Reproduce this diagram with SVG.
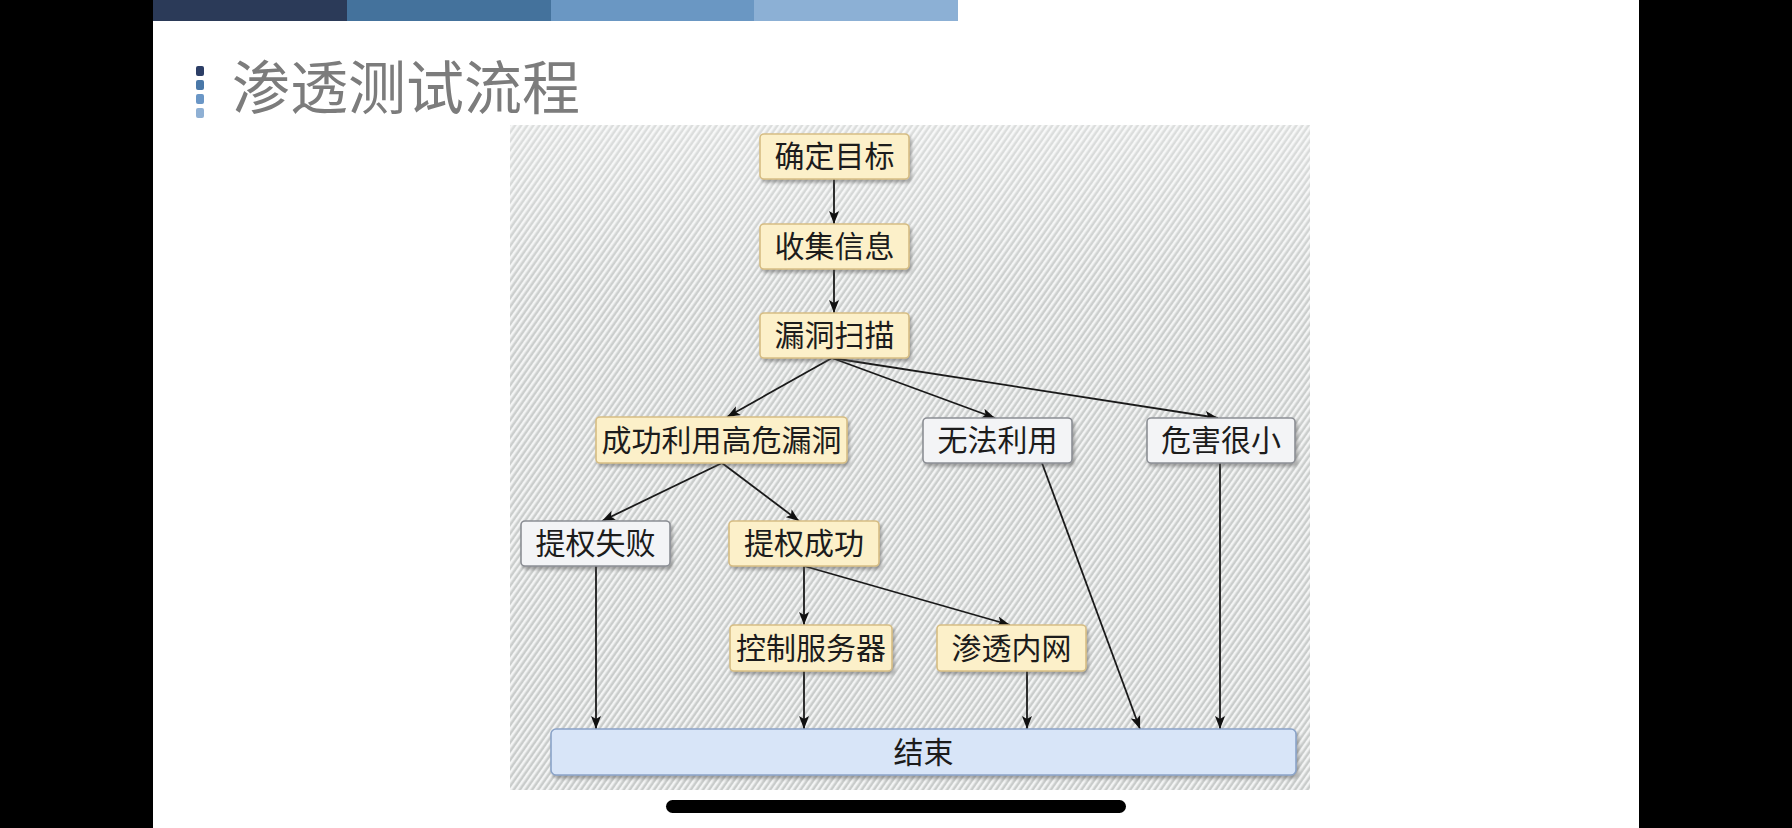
<svg xmlns="http://www.w3.org/2000/svg" width="1792" height="828" viewBox="0 0 1792 828">
<style>
.node rect{stroke-width:1.6}
.yel rect{fill:#fcf0c9;stroke:#d6bd84}
.gry rect{fill:#f3f4f6;stroke:#8c8f95}
.blu rect{fill:#d8e5f8;stroke:#8aa3c8}
.node text{font-family:"Noto Sans CJK SC","Noto Sans",sans-serif;font-size:30px;fill:#1c1c1c;text-anchor:middle}
.conn line{stroke:#1a1a1a;stroke-width:1.8;fill:none}
</style>
<defs>
<pattern id="hatch" width="5" height="5" patternUnits="userSpaceOnUse" patternTransform="rotate(35)">
<rect width="5" height="5" fill="#c9cccb"/>
<rect width="2.5" height="5" fill="#f3f4f4"/>
</pattern>
<linearGradient id="fade" x1="0" y1="0" x2="0" y2="1">
<stop offset="0" stop-color="#ffffff" stop-opacity="0.35"/>
<stop offset="0.25" stop-color="#ffffff" stop-opacity="0.05"/>
<stop offset="1" stop-color="#ffffff" stop-opacity="0"/>
</linearGradient>
<filter id="sh" x="-10%" y="-20%" width="125%" height="150%">
<feDropShadow dx="2" dy="3" stdDeviation="1.5" flood-color="#555" flood-opacity="0.45"/>
</filter>
<marker id="arr" viewBox="0 0 13 10" refX="13" refY="5" markerWidth="13" markerHeight="10" markerUnits="userSpaceOnUse" orient="auto">
<path d="M0,0 L13,5 L0,10 L3,5 z" fill="#111"/>
</marker>
</defs>
<rect x="0" y="0" width="1792" height="828" fill="#000"/>
<rect x="153" y="0" width="1486" height="828" fill="#ffffff"/>
<g id="topbar">
<rect x="153" y="0" width="194" height="21" fill="#2b3a58"/>
<rect x="347" y="0" width="204" height="21" fill="#44729c"/>
<rect x="551" y="0" width="203" height="21" fill="#6a97c3"/>
<rect x="754" y="0" width="204" height="21" fill="#8cb0d5"/>
</g>
<g id="title">
<rect x="196" y="66" width="8" height="10" rx="2" fill="#2c3e66"/>
<rect x="196" y="80" width="8" height="10" rx="2" fill="#4a78a8"/>
<rect x="196" y="94" width="8" height="10" rx="2" fill="#6a96c6"/>
<rect x="196" y="108" width="8" height="10" rx="2" fill="#8fb0d4"/>
<text x="232" y="109" font-family="Noto Sans CJK SC, sans-serif" font-size="58" fill="#7c7c7c">渗透测试流程</text>
</g>
<g id="panel">
<rect x="510" y="125" width="800" height="665" fill="url(#hatch)"/>
<rect x="510" y="125" width="800" height="665" fill="url(#fade)"/>
</g>
<g id="connectors" class="conn">
<line x1="834" y1="179" x2="834" y2="224" marker-end="url(#arr)"/>
<line x1="834" y1="269" x2="834" y2="313" marker-end="url(#arr)"/>
<line x1="832" y1="358" x2="727" y2="417" marker-end="url(#arr)"/>
<line x1="832" y1="358" x2="995" y2="418" marker-end="url(#arr)"/>
<line x1="832" y1="358" x2="1218" y2="418" marker-end="url(#arr)"/>
<line x1="722" y1="463" x2="602" y2="521" marker-end="url(#arr)"/>
<line x1="722" y1="463" x2="799" y2="521" marker-end="url(#arr)"/>
<line x1="804" y1="566" x2="804" y2="625" marker-end="url(#arr)"/>
<line x1="804" y1="566" x2="1010" y2="625" marker-end="url(#arr)"/>
<line x1="596" y1="566" x2="596" y2="729" marker-end="url(#arr)"/>
<line x1="804" y1="671" x2="804" y2="729" marker-end="url(#arr)"/>
<line x1="1027" y1="671" x2="1027" y2="729" marker-end="url(#arr)"/>
<line x1="1042" y1="463" x2="1140" y2="729" marker-end="url(#arr)"/>
<line x1="1220" y1="463" x2="1220" y2="729" marker-end="url(#arr)"/>
</g>
<g id="n1" class="node yel"><rect x="760" y="134" width="149" height="45" rx="4" filter="url(#sh)"/><text x="834.5" y="167">确定目标</text></g>
<g id="n2" class="node yel"><rect x="760" y="224" width="149" height="45" rx="4" filter="url(#sh)"/><text x="834.5" y="257">收集信息</text></g>
<g id="n3" class="node yel"><rect x="760" y="313" width="149" height="45" rx="4" filter="url(#sh)"/><text x="834.5" y="346">漏洞扫描</text></g>
<g id="n4" class="node yel"><rect x="596" y="417" width="251" height="46" rx="4" filter="url(#sh)"/><text x="721.5" y="451">成功利用高危漏洞</text></g>
<g id="n5" class="node gry"><rect x="923" y="418" width="149" height="45" rx="4" filter="url(#sh)"/><text x="997.5" y="451">无法利用</text></g>
<g id="n6" class="node gry"><rect x="1147" y="418" width="148" height="45" rx="4" filter="url(#sh)"/><text x="1221" y="451">危害很小</text></g>
<g id="n7" class="node gry"><rect x="521" y="521" width="149" height="45" rx="4" filter="url(#sh)"/><text x="595.5" y="554">提权失败</text></g>
<g id="n8" class="node yel"><rect x="729" y="521" width="150" height="45" rx="4" filter="url(#sh)"/><text x="804" y="554">提权成功</text></g>
<g id="n9" class="node yel"><rect x="730" y="625" width="162" height="46" rx="4" filter="url(#sh)"/><text x="811" y="659">控制服务器</text></g>
<g id="n10" class="node yel"><rect x="937" y="625" width="149" height="46" rx="4" filter="url(#sh)"/><text x="1011.5" y="659">渗透内网</text></g>
<g id="n11" class="node blu"><rect x="551" y="729" width="745" height="46" rx="5" filter="url(#sh)"/><text x="923.5" y="763">结束</text></g>
<rect x="666" y="800" width="460" height="13" rx="6.5" fill="#000"/>
</svg>
